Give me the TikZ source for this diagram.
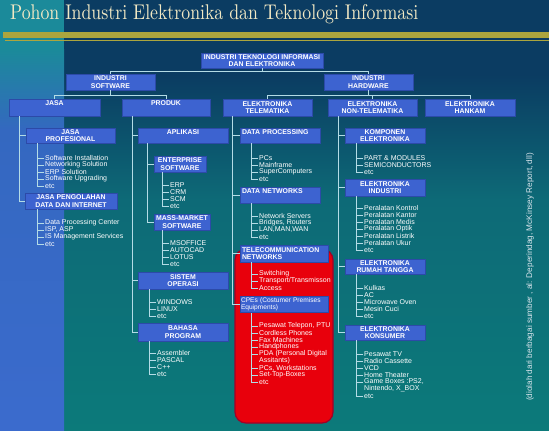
\documentclass[tikz,border=0pt]{standalone}
\usepackage{fontspec}
\setsansfont{Liberation Sans}
\usepackage{graphicx}
\usetikzlibrary{calc}

\definecolor{navy}{HTML}{0B3C62}
\definecolor{midteal}{HTML}{0D6A77}
\definecolor{botteal}{HTML}{0C7A7A}
\definecolor{striptop}{HTML}{1B8A9A}
\definecolor{stripmid}{HTML}{3468C0}
\definecolor{stripbot}{HTML}{3B6BCD}
\definecolor{gold}{HTML}{ACA53E}
\definecolor{titlecream}{HTML}{F2E9C4}
\definecolor{boxblue}{HTML}{3D63D0}
\definecolor{boxedge}{HTML}{2C4AA8}
\definecolor{linecol}{HTML}{B4DCE6}
\definecolor{cpered}{HTML}{E8000C}
\definecolor{cpeedge}{HTML}{A00028}
\definecolor{srcgray}{HTML}{D8E4EC}

\tikzset{
  box/.style={fill=boxblue, draw=boxedge, line width=0.6pt, text=white,
    font=\sffamily\bfseries\fontsize{6.9}{7.4}\selectfont, align=center,
    inner xsep=1pt, inner ysep=1.2pt},
  lbox/.style={align=left, text width=#1, inner xsep=2pt},
  toptxt/.style={text height=5.2pt, text depth=#1},
  itm/.style={anchor=west, inner xsep=1.5pt, inner ysep=0pt, text=white,
    font=\sffamily\fontsize{7}{7}\selectfont},
  ln/.style={draw=linecol, line width=0.8pt},
  redzone/.style={fill=cpered, draw=cpeedge, line width=1.2pt,
    rounded corners=11pt, inner sep=0pt},
}

% box: [options]{name}{x1}{y1}{x2}{y2}{label}
\newcommand\tbox[7][]{%
  \node[box, minimum width={#5-#3}, minimum height={#6-#4}, #1] (#2)
    at ({(#3+#5)/2},{(#4+#6)/2}) {#7};}
% list entry with its tick: {name}{trunk x}{y}{text}
\newcommand\leaf[4]{%
  \node[itm] (#1) at (#2+6.5,#3) {#4};
  \draw[ln] (#1.west) -- ++(-6.5,0);}
% continuation line of a list entry (no tick)
\newcommand\leafcont[4]{\node[itm] (#1) at (#2+6.5,#3) {#4};}
% trunk of a list: {parent box}{last entry}
\newcommand\trunk[2]{%
  \draw[ln] ([xshift=-6.5pt]#2.west |- #1.south) -- ([xshift=-6.5pt]#2.west);}

\begin{document}
\begin{tikzpicture}[x=1pt,y=-1pt]
\useasboundingbox (0,0) rectangle (549,431);

% background
\fill[navy] (64,0) rectangle (549,75);
\shade[top color=navy, bottom color=midteal] (64,74.5) rectangle (549,200);
\shade[top color=midteal, bottom color=botteal] (64,199.5) rectangle (549,431);
\fill[striptop] (0,0) rectangle (64,50);
\shade[top color=striptop, bottom color=stripmid] (0,49.5) rectangle (64,130);
\shade[top color=stripmid, bottom color=stripbot] (0,129.5) rectangle (64,431);

% title and rules
\node[anchor=base west, inner sep=0pt, text=titlecream] (title) at (10,19.5)
  {\resizebox{408pt}{15pt}{\rmfamily Pohon Industri Elektronika dan Teknologi Informasi}};
\fill[gold] (3,32) rectangle (549,37.5);
\fill[gold] (5,39.5) rectangle (549,41);

% highlighted customer-equipment area
\node[redzone, minimum width=98pt, minimum height=174pt] (cpezone) at (284,336) {};

% boxes
\tbox{root}{201}{53}{323}{68}{INDUSTRI TEKNOLOGI INFORMASI\\DAN ELEKTRONIKA}
\tbox{sw}{66}{74}{155}{90}{INDUSTRI\\SOFTWARE}
\tbox{hw}{324}{74}{413}{90}{INDUSTRI\\HARDWARE}
\tbox[toptxt=9.4pt]{jasa}{9}{99}{100}{116}{JASA}
\tbox[toptxt=9.4pt]{produk}{122}{99}{210}{116}{PRODUK}
\tbox{tele}{223}{99}{312}{116}{ELEKTRONIKA\\TELEMATIKA}
\tbox{nontel}{328}{99}{417}{116}{ELEKTRONIKA\\NON-TELEMATIKA}
\tbox{hankam}{425}{99}{515}{116}{ELEKTRONIKA\\HANKAM}

\tbox{jprof}{26}{128}{115}{143}{JASA\\PROFESIONAL}
\tbox{jpeng}{25}{193}{117}{209}{JASA PENGOLAHAN\\DATA DAN INTERNET}

\tbox[toptxt=7.4pt]{aplikasi}{138}{128}{228}{143}{APLIKASI}
\tbox{enterprise}{154}{156}{206}{172}{ENTERPRISE\\SOFTWARE}
\tbox{massmkt}{154}{214}{210}{230}{MASS-MARKET\\SOFTWARE}
\tbox{sistem}{138}{272}{228}{289}{SISTEM\\OPERASI}
\tbox{bahasa}{138}{323}{228}{341}{BAHASA\\PROGRAM}

\tbox[lbox=76pt, toptxt=7.4pt]{dataproc}{240}{128}{320}{143}{DATA PROCESSING}
\tbox[lbox=76pt, toptxt=8.4pt]{datanet}{240}{187}{320}{203}{DATA NETWORKS}
\tbox[lbox=84pt]{telecom}{240}{245}{328}{262}{TELECOMMUNICATION\\NETWORKS}
\tbox[lbox=86pt, inner xsep=1pt, font=\sffamily\fontsize{6.6}{7.4}\selectfont]{cpes}{240}{297}{328}{312}{CPEs (Costumer Premises\\Equipments)}

\tbox{komponen}{345}{128}{425}{143}{KOMPONEN\\ELEKTRONIKA}
\tbox{elind}{345}{179}{425}{196}{ELEKTRONIKA\\INDUSTRI}
\tbox{rumah}{345}{259}{425}{274}{ELEKTRONIKA\\RUMAH TANGGA}
\tbox{konsumer}{345}{325}{425}{340}{ELEKTRONIKA\\KONSUMER}

% upper tree
\coordinate (bar0) at (0,71);
\coordinate (bar1) at (0,95);
\draw[ln] (root.south) -- (root.south |- bar0);
\draw[ln] (sw.north) |- (bar0 -| hw.north) -- (hw.north);
\draw[ln] (sw.south) -- (sw.south |- bar1);
\draw[ln] (jasa.north) |- (bar1 -| produk.north) -- (produk.north);
\draw[ln] (hw.south) -- (hw.south |- bar1);
\draw[ln] (tele.north) |- (bar1 -| hankam.north) -- (hankam.north);
\draw[ln] (nontel.north) -- (nontel.north |- bar1);

% branches to sub-boxes
\draw[ln] ([xshift=11pt]jasa.south west) |- (jpeng.west);
\draw[ln] ([xshift=11pt]jasa.south west |- jprof.west) -- (jprof.west);

\draw[ln] ([xshift=11pt]produk.south west) |- (bahasa.west);
\draw[ln] ([xshift=11pt]produk.south west |- aplikasi.west) -- (aplikasi.west);
\draw[ln] ([xshift=11pt]produk.south west |- sistem.west) -- (sistem.west);

\draw[ln] ([xshift=10pt]aplikasi.south west) |- (massmkt.west);
\draw[ln] ([xshift=10pt]aplikasi.south west |- enterprise.west) -- (enterprise.west);

\draw[ln] ([xshift=10pt]tele.south west) |- (cpes.west);
\draw[ln] ([xshift=10pt]tele.south west |- dataproc.west) -- (dataproc.west);
\draw[ln] ([xshift=10pt]tele.south west |- datanet.west) -- (datanet.west);
\draw[ln] ([xshift=10pt]tele.south west |- telecom.west) -- (telecom.west);

\draw[ln] ([xshift=11pt]nontel.south west) |- (konsumer.west);
\draw[ln] ([xshift=11pt]nontel.south west |- komponen.west) -- (komponen.west);
\draw[ln] ([xshift=11pt]nontel.south west |- elind.west) -- (elind.west);
\draw[ln] ([xshift=11pt]nontel.south west |- rumah.west) -- (rumah.west);

% lists
\leaf{jp1}{37}{158}{Software Installation}
\leaf{jp2}{37}{165}{Networking Solution}
\leaf{jp3}{37}{172}{ERP Solution}
\leaf{jp4}{37}{179}{Software Upgrading}
\leaf{jp5}{37}{186}{etc}
\trunk{jprof}{jp5}

\leaf{jd1}{37}{223}{Data Processing Center}
\leaf{jd2}{37}{230}{ISP, ASP}
\leaf{jd3}{37}{237}{IS Management Services}
\leaf{jd4}{37}{244}{etc}
\trunk{jpeng}{jd4}

\leaf{en1}{162}{185}{ERP}
\leaf{en2}{162}{192}{CRM}
\leaf{en3}{162}{199}{SCM}
\leaf{en4}{162}{206}{etc}
\trunk{enterprise}{en4}

\leaf{mm1}{162}{243}{MSOFFICE}
\leaf{mm2}{162}{250}{AUTOCAD}
\leaf{mm3}{162}{257}{LOTUS}
\leaf{mm4}{162}{264}{etc}
\trunk{massmkt}{mm4}

\leaf{os1}{149}{302}{WINDOWS}
\leaf{os2}{149}{309}{LINUX}
\leaf{os3}{149}{316}{etc}
\trunk{sistem}{os3}

\leaf{bp1}{149}{353}{Assembler}
\leaf{bp2}{149}{360}{PASCAL}
\leaf{bp3}{149}{367}{C++}
\leaf{bp4}{149}{374}{etc}
\trunk{bahasa}{bp4}

\leaf{dp1}{251}{158}{PCs}
\leaf{dp2}{251}{165}{Mainframe}
\leaf{dp3}{251}{172}{SuperComputers}
\leaf{dp4}{251}{179}{etc}
\trunk{dataproc}{dp4}

\leaf{dn1}{251}{216}{Network Servers}
\leaf{dn2}{251}{223}{Bridges, Routers}
\leaf{dn3}{251}{230}{LAN,MAN,WAN}
\leaf{dn4}{251}{237}{etc}
\trunk{datanet}{dn4}

\leaf{tn1}{251}{274}{Switching}
\leaf{tn2}{251}{281}{Transport/Transmisson}
\leaf{tn3}{251}{288}{Access}
\trunk{telecom}{tn3}

\leaf{ce1}{251}{326}{Pesawat Telepon, PTU}
\leaf{ce2}{251}{333}{Cordless Phones}
\leaf{ce3}{251}{340}{Fax Machines}
\leaf{ce4}{251}{347}{Handphones}
\leaf{ce5}{251}{354}{PDA (Personal Digital}
\leafcont{ce5b}{251}{361}{Assitants)}
\leaf{ce6}{251}{368}{PCs, Workstations}
\leaf{ce7}{251}{375}{Set-Top-Boxes}
\leaf{ce8}{251}{382}{etc}
\trunk{cpes}{ce8}

\leaf{ko1}{356}{158}{PART \& MODULES}
\leaf{ko2}{356}{165}{SEMICONDUCTORS}
\leaf{ko3}{356}{172}{etc}
\trunk{komponen}{ko3}

\leaf{ei1}{356}{208}{Peralatan Kontrol}
\leaf{ei2}{356}{215}{Peralatan Kantor}
\leaf{ei3}{356}{222}{Peralatan Medis}
\leaf{ei4}{356}{229}{Peralatan Optik}
\leaf{ei5}{356}{236}{Peralatan Listrik}
\leaf{ei6}{356}{243}{Peralatan Ukur}
\leaf{ei7}{356}{250}{etc}
\trunk{elind}{ei7}

\leaf{rt1}{356}{288}{Kulkas}
\leaf{rt2}{356}{295}{AC}
\leaf{rt3}{356}{302}{Microwave Oven}
\leaf{rt4}{356}{309}{Mesin Cuci}
\leaf{rt5}{356}{316}{etc}
\trunk{rumah}{rt5}

\leaf{ks1}{356}{354}{Pesawat TV}
\leaf{ks2}{356}{361}{Radio Cassette}
\leaf{ks3}{356}{368}{VCD}
\leaf{ks4}{356}{375}{Home Theater}
\leaf{ks5}{356}{382}{Game Boxes :PS2,}
\leafcont{ks5b}{356}{389}{Nintendo, X\_BOX}
\leaf{ks6}{356}{396}{etc}
\trunk{konsumer}{ks6}

% source note
\node[rotate=90, text=srcgray, inner sep=0pt, font=\sffamily\fontsize{8.2}{9}\selectfont] (src)
  at (530,277) {(diolah dari berbagai sumber , al: Deperindag, McKinsey Report, dll)};
\end{tikzpicture}
\end{document}
